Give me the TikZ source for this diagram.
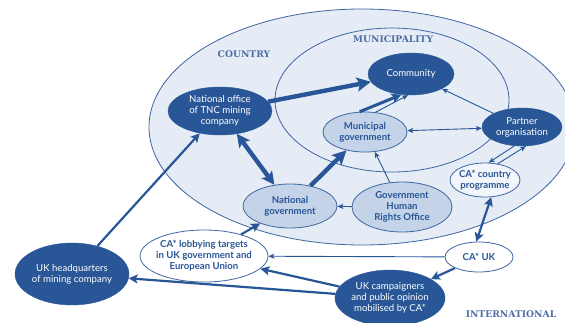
\documentclass[tikz,border=0pt]{standalone}
\usepackage{fontspec}
\setmainfont{Lato}
\newfontfamily\headfont{DejaVu Serif}
\usetikzlibrary{arrows.meta,shapes.geometric}
\definecolor{dkblue}{RGB}{40,86,150}
\definecolor{midfill}{RGB}{196,211,232}
\definecolor{palefill}{RGB}{229,236,246}
\definecolor{lineblue}{RGB}{62,102,162}
\definecolor{headblue}{RGB}{78,110,165}
\tikzset{
  blob/.style={ellipse, inner sep=-8pt, align=center, font=\fontsize{9.6}{11}\selectfont},
  darknode/.style={blob, fill=dkblue, draw=dkblue, text=white},
  midnode/.style={blob, fill=midfill, draw=lineblue, line width=0.8pt, text=dkblue, font=\fontsize{9.6}{11}\selectfont\bfseries},
  opennode/.style={blob, fill=white, draw=lineblue, line width=0.8pt, text=dkblue, font=\fontsize{9.6}{11}\selectfont\bfseries},
  region/.style={draw=lineblue, line width=0.8pt},
  heading/.style={text=headblue, font=\headfont\fontsize{9.2}{10}\selectfont\bfseries},
  thin/.style={draw=dkblue, line width=0.9pt, -{Stealth[length=6pt,width=5pt,inset=1.5pt]}},
  thinboth/.style={thin, {Stealth[length=6pt,width=5pt,inset=1.5pt]}-{Stealth[length=6pt,width=5pt,inset=1.5pt]}},
  medium/.style={draw=dkblue, line width=2.2pt, -{Stealth[length=9pt,width=9pt,inset=2pt]}},
  mediumboth/.style={medium, {Stealth[length=9pt,width=9pt,inset=2pt]}-{Stealth[length=9pt,width=9pt,inset=2pt]}},
  thick/.style={draw=dkblue, line width=4.4pt, -{Stealth[length=14pt,width=14pt,inset=3pt]}},
  thickboth/.style={thick, {Stealth[length=13pt,width=13pt,inset=3pt]}-{Stealth[length=13pt,width=13pt,inset=3pt]}},
}
\begin{document}
\begin{tikzpicture}[x=1pt,y=-1pt]
\useasboundingbox (0,0) rectangle (565,322);

% nested regions
\draw[region, fill=palefill] (362,127) ellipse [x radius=213, y radius=118];
\draw[region] (392,100) ellipse [x radius=117, y radius=72];

\node[heading] (hcountry) at (244,54) {COUNTRY};
\node[heading] (hmuni) at (393,39) {MUNICIPALITY};
\node[heading] (hintl) at (511,314) {INTERNATIONAL};

% actors
\node[darknode, minimum width=104pt, minimum height=48pt] (nto) at (220,111) {National office\\of TNC mining\\company};
\node[darknode, minimum width=86pt, minimum height=42pt] (comm) at (411,74) {Community};
\node[midnode, minimum width=84pt, minimum height=40pt] (munig) at (365,132) {Municipal\\government};
\node[darknode, minimum width=80pt, minimum height=38pt] (partner) at (522,127) {Partner\\organisation};
\node[opennode, fill=palefill!50, minimum width=70pt, minimum height=34pt] (cacp) at (485,180) {CA* country\\programme};
\node[midnode, minimum width=100pt, minimum height=50pt] (hro) at (402,207) {Government\\Human\\Rights Office};
\node[midnode, minimum width=94pt, minimum height=44pt] (natg) at (290,206) {National\\government};
\node[opennode, minimum width=128pt, minimum height=52pt] (lobby) at (204,256) {CA* lobbying targets\\in UK government and\\European Union};
\node[darknode, minimum width=114pt, minimum height=62pt] (ukhq) at (72,274) {UK headquarters\\of mining company};
\node[opennode, minimum width=68pt, minimum height=30pt] (cauk) at (479,257) {CA* UK};
\node[darknode, minimum width=110pt, minimum height=56pt] (ukc) at (390,298) {UK campaigners\\and public opinion\\mobilised by CA*};

% influence links
\draw[thick] (nto) -- (comm);
\draw[thickboth] (nto) -- (natg);
\draw[thick] (natg) -- (munig);
\draw[draw=dkblue, line width=3pt, -{Stealth[length=10pt,width=10pt,inset=2.5pt]}] (munig.105) -- (comm.245);
\draw[thin] (munig.62) -- (comm.262);
\draw[thin] (partner) -- (comm);
\draw[thinboth] (munig) -- (partner);
\draw[thin] (partner.-112) -- (cacp.78);
\draw[thin] (cacp.52) -- (partner.-78);
\draw[thin] (hro) -- (munig);
\draw[thin] (hro) -- (natg);
\draw[mediumboth] (cacp.-70) -- (cauk.100);
\draw[thin] (cauk) -- (lobby);
\draw[medium] (cauk) -- (ukc);
\draw[medium] (ukc) -- (lobby);
\draw[medium] (ukc) -- (ukhq);
\draw[medium] (ukhq) -- (nto);
\draw[medium] (lobby) -- (natg);
\end{tikzpicture}
\end{document}
